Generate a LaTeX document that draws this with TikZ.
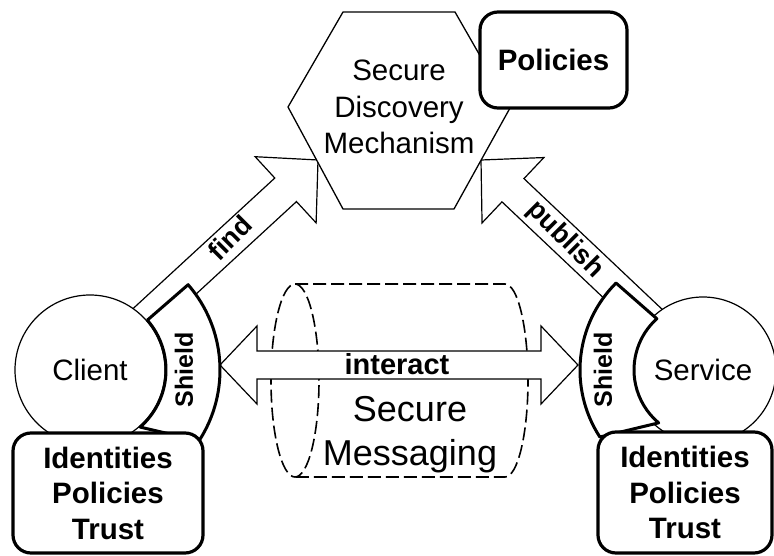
\documentclass[tikz,border=0pt]{standalone}
\usepackage{fontspec}
\setmainfont{Liberation Sans}
\usetikzlibrary{calc}
\tikzset{
  arrowbody/.style={draw=black, fill=white, line width=1.2pt, line join=miter},
  cyl/.style={draw=black, line width=1.6pt, dash pattern=on 13pt off 5pt},
  hexshape/.style={draw=black, fill=white, line width=1.3pt},
  bigbox/.style={draw=black, fill=white, line width=3.2pt, rounded corners=18pt},
  ball/.style={circle, draw=black, fill=white, line width=1.2pt, inner sep=0pt},
  shieldshape/.style={draw=black, fill=white, line width=3pt, line join=round},
  body/.style={font=\fontsize{29.5pt}{36.5pt}\selectfont, align=center, inner sep=0pt},
  boldbody/.style={font=\fontsize{29.5pt}{35.5pt}\selectfont\bfseries, align=center, inner sep=0pt},
  biglabel/.style={font=\fontsize{36pt}{44pt}\selectfont, align=center, inner sep=0pt},
  arrowlabel/.style={font=\fontsize{27pt}{30pt}\selectfont\bfseries, inner sep=0pt},
  shieldlabel/.style={font=\fontsize{25pt}{28pt}\selectfont\bfseries, inner sep=0pt, rotate=90}
}
\newcommand{\blockarrow}[5]{%
  \coordinate (ba-h) at ($(#2)!#5!(#1)$);
  \draw[arrowbody] ($(#1)!#3!90:(#2)$) -- ($(ba-h)!#3!-90:(#1)$) -- ($(ba-h)!#4!-90:(#1)$)
    -- (#2) -- ($(ba-h)!#4!90:(#1)$) -- ($(ba-h)!#3!90:(#1)$) -- ($(#1)!#3!-90:(#2)$) -- cycle;}
\begin{document}
\begin{tikzpicture}[x=1pt,y=-1pt]
\useasboundingbox (0,0) rectangle (774,556);
\coordinate (cl) at (90,370);
\coordinate (sv) at (703,370);
\coordinate (findtip) at (318,160);
\coordinate (pubtip) at (481,160);
\coordinate (itl) at (220,365);
\coordinate (itr) at (578,365);

% secure messaging cylinder
\draw[cyl] (295,284) -- (505,284) arc[start angle=90, end angle=-90, x radius=23pt, y radius=96.5pt] -- (295,477);
\draw[cyl] (295,380.5) ellipse[x radius=24pt, y radius=96.5pt];
\node[biglabel] (msg) at (410,435) {Secure\\Messaging};

% interact double arrow
\draw[arrowbody] (itl) -- ++(37,-39) -- ++(0,25) -- ($(itr)+(-37,-14)$) -- ++(0,-25) -- (itr)
  -- ++(-37,39) -- ++(0,-25) -- ($(itl)+(37,14)$) -- ++(0,25) -- cycle;
\node[arrowlabel, font=\fontsize{29pt}{30pt}\selectfont\bfseries] (interact) at (397,364) {interact};

% find and publish arrows
\blockarrow{cl}{findtip}{16pt}{45pt}{44pt}
\blockarrow{sv}{pubtip}{16pt}{45pt}{44pt}
\node[arrowlabel, rotate=45] (find) at (230,238) {find};
\node[arrowlabel, rotate=-45] (publish) at (565,240) {publish};

% discovery hexagon
\draw[hexshape] (343,12) -- (455,12) -- (510,108) -- (454,209) -- (343,209) -- (288,107) -- cycle;
\node[body] (sdm) at (399,107) {Secure\\Discovery\\Mechanism};
\node[bigbox, boldbody, minimum width=147pt, minimum height=96pt] (pol) at (553.5,60) {Policies};

% client and service
\node[ball, body, minimum size=150pt] (client) at (cl) {Client};
\node[ball, body, minimum size=146pt] (service) at (sv) {Service};

% shields
\draw[shieldshape] ([shift={(41:76pt)}]cl) arc[start angle=41, end angle=-48.7, radius=76pt]
  -- ([shift={(-33:130pt)}]cl) arc[start angle=-33, end angle=41, radius=130pt] -- cycle;
\draw[shieldshape] ([shift={(132:69pt)}]sv) arc[start angle=132, end angle=230, radius=69pt]
  -- ([shift={(213:123pt)}]sv) arc[start angle=213, end angle=135, radius=123pt] -- cycle;
\node[shieldlabel] (cshield) at (184,370) {Shield};
\node[shieldlabel] (sshield) at (603,370) {Shield};

% identity boxes
\node[bigbox, boldbody, minimum width=190pt, minimum height=120pt] (cid) at (108,493) {Identities\\Policies\\Trust};
\node[bigbox, boldbody, minimum width=174pt, minimum height=121pt] (sid) at (685,492.5) {Identities\\Policies\\Trust};
\end{tikzpicture}
\end{document}
